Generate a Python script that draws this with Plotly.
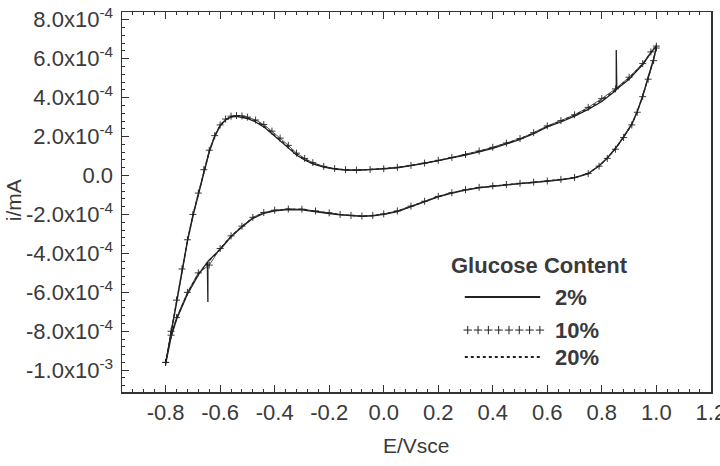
import plotly.graph_objects as go

# ---- data (current in units of 1e-4 mA, potential in V vs SCE) ----
E_up = [-0.80, -0.78, -0.76, -0.74, -0.72, -0.70, -0.68, -0.66, -0.64, -0.62,
        -0.60, -0.58, -0.56, -0.54, -0.52, -0.50, -0.47, -0.44, -0.41, -0.38,
        -0.35, -0.32, -0.29, -0.26, -0.22, -0.18, -0.14, -0.10, -0.05, 0.00,
        0.05, 0.10, 0.15, 0.20, 0.25, 0.30, 0.35, 0.40, 0.45, 0.50,
        0.55, 0.60, 0.65, 0.70, 0.75, 0.80, 0.85, 0.90, 0.95, 0.98, 1.00]
E_down = [1.00, 0.99, 0.97, 0.95, 0.93, 0.91, 0.88, 0.85, 0.82, 0.79,
          0.75, 0.70, 0.65, 0.60, 0.55, 0.50, 0.45, 0.40, 0.35, 0.30,
          0.25, 0.20, 0.15, 0.10, 0.05, 0.00, -0.04, -0.08, -0.12, -0.16,
          -0.20, -0.25, -0.30, -0.35, -0.40, -0.44, -0.48, -0.52, -0.56, -0.60,
          -0.64, -0.68, -0.72, -0.76, -0.78, -0.80]

i2_up = [-9.7, -8.1, -6.5, -4.9, -3.4, -2.1, -1.0, 0.2, 1.2, 2.0,
         2.55, 2.85, 3.0, 3.04, 3.0, 2.93, 2.75, 2.5, 2.15, 1.8,
         1.42, 1.05, 0.8, 0.6, 0.43, 0.33, 0.28, 0.27, 0.3, 0.34,
         0.4, 0.5, 0.62, 0.76, 0.9, 1.05, 1.22, 1.4, 1.62, 1.85,
         2.15, 2.5, 2.75, 3.05, 3.4, 3.8, 4.35, 4.95, 5.7, 6.3, 6.65]
i2_down = [6.6, 6.0, 5.0, 4.1, 3.3, 2.65, 2.0, 1.4, 0.9, 0.5,
           0.1, -0.12, -0.22, -0.3, -0.36, -0.42, -0.48, -0.55, -0.63, -0.75,
           -0.9, -1.1, -1.35, -1.6, -1.85, -2.0, -2.07, -2.1, -2.07, -2.02,
           -1.95, -1.85, -1.76, -1.75, -1.82, -1.95, -2.2, -2.65, -3.15, -3.8,
           -4.35, -5.1, -6.1, -7.4, -8.3, -9.7]
# noise spikes visible on the 2% trace
spike_up_E = [0.853, 0.853, 0.855]
spike_up_i = [4.4, 6.45, 4.45]
spike_down_E = [-0.645, -0.645, -0.647]
spike_down_i = [-4.4, -6.5, -4.45]

i10_up = [-9.6, -8.0, -6.4, -4.8, -3.3, -2.0, -0.9, 0.3, 1.3, 2.05,
          2.6, 2.9, 3.05, 3.08, 3.06, 3.0, 2.85, 2.62, 2.28, 1.92,
          1.55, 1.15, 0.88, 0.66, 0.47, 0.36, 0.3, 0.28, 0.31, 0.35,
          0.42, 0.52, 0.64, 0.78, 0.93, 1.08, 1.26, 1.45, 1.67, 1.9,
          2.2, 2.55, 2.82, 3.12, 3.5, 3.95, 4.45, 5.05, 5.75, 6.35, 6.65]
i10_down = [6.55, 5.9, 4.95, 4.05, 3.25, 2.6, 1.95, 1.35, 0.88, 0.48,
            0.1, -0.1, -0.2, -0.28, -0.34, -0.4, -0.46, -0.53, -0.61, -0.73,
            -0.88, -1.07, -1.32, -1.57, -1.82, -1.97, -2.05, -2.08, -2.05, -2.0,
            -1.92, -1.82, -1.73, -1.72, -1.78, -1.9, -2.15, -2.6, -3.1, -3.75,
            -4.6, -5.0, -6.0, -7.3, -8.2, -9.6]

i20_up = [-9.65, -8.05, -6.45, -4.85, -3.35, -2.05, -0.95, 0.25, 1.25, 2.02,
          2.57, 2.88, 3.02, 3.06, 3.03, 2.96, 2.8, 2.56, 2.2, 1.86,
          1.48, 1.1, 0.84, 0.63, 0.45, 0.35, 0.29, 0.28, 0.31, 0.35,
          0.41, 0.51, 0.63, 0.77, 0.92, 1.07, 1.24, 1.43, 1.65, 1.88,
          2.18, 2.52, 2.8, 3.1, 3.45, 3.88, 4.4, 5.0, 5.72, 6.32, 6.65]
i20_down = [6.58, 5.95, 4.98, 4.08, 3.28, 2.62, 1.98, 1.38, 0.89, 0.49,
            0.1, -0.11, -0.21, -0.29, -0.35, -0.41, -0.47, -0.54, -0.62, -0.74,
            -0.89, -1.08, -1.33, -1.58, -1.83, -1.98, -2.06, -2.09, -2.06, -2.01,
            -1.93, -1.83, -1.74, -1.73, -1.8, -1.92, -2.17, -2.62, -3.12, -3.77,
            -4.38, -5.05, -6.05, -7.35, -8.25, -9.65]

y_tickvals = [-10, -8, -6, -4, -2, 0, 2, 4, 6, 8]
y_ticktext = ["-1.0x10<sup>-3</sup>", "-8.0x10<sup>-4</sup>", "-6.0x10<sup>-4</sup>",
              "-4.0x10<sup>-4</sup>", "-2.0x10<sup>-4</sup>", "0.0",
              "2.0x10<sup>-4</sup>", "4.0x10<sup>-4</sup>", "6.0x10<sup>-4</sup>",
              "8.0x10<sup>-4</sup>"]
x_tickvals = [-0.8, -0.6, -0.4, -0.2, 0.0, 0.2, 0.4, 0.6, 0.8, 1.0, 1.2]
x_ticktext = ["-0.8", "-0.6", "-0.4", "-0.2", "0.0", "0.2", "0.4", "0.6", "0.8", "1.0", "1.2"]

legend_title = "Glucose Content"
legend_labels = ["2%", "10%", "20%"]

# ---- assemble 2% loop with its spikes ----
k_up = E_up.index(0.85) + 1
E2 = E_up[:k_up] + spike_up_E + E_up[k_up:]
I2 = i2_up[:k_up] + spike_up_i + i2_up[k_up:]
k_dn = E_down.index(-0.64) + 1
E2 = E2 + E_down[:k_dn] + spike_down_E + E_down[k_dn:]
I2 = I2 + i2_down[:k_dn] + spike_down_i + i2_down[k_dn:]

INK = "#222222"
FONT = "Liberation Sans, Arial, sans-serif"
TXT = "#3a3a3a"
FS_TICK = 22
FS_TITLE = 21
FS_LEG = 22

fig = go.Figure()
fig.add_trace(go.Scatter(x=E2, y=I2, mode="lines",
                         line=dict(color=INK, width=1.3), showlegend=False))
fig.add_trace(go.Scatter(x=E_up + E_down, y=i10_up + i10_down, mode="lines+markers",
                         line=dict(color=INK, width=0.8),
                         marker=dict(symbol="cross-thin", size=5,
                                     line=dict(color=INK, width=0.9)),
                         showlegend=False))
fig.add_trace(go.Scatter(x=E_up + E_down, y=i20_up + i20_down, mode="lines",
                         line=dict(color=INK, width=1.3, dash="dot"), showlegend=False))

# ---- hand-drawn legend (overlay paper-like axes) ----
leg_x = [0.582, 0.710]
leg_y = [0.25, 0.163, 0.092]
fig.add_trace(go.Scatter(x=leg_x, y=[leg_y[0]] * 2, xaxis="x2", yaxis="y2", mode="lines",
                         line=dict(color=INK, width=2), showlegend=False, hoverinfo="skip"))
fig.add_trace(go.Scatter(x=[0.587 + 0.0175 * k for k in range(8)], y=[leg_y[1]] * 8,
                         xaxis="x2", yaxis="y2", mode="markers",
                         marker=dict(symbol="cross-thin", size=6, line=dict(color=INK, width=1)),
                         showlegend=False, hoverinfo="skip"))
fig.add_trace(go.Scatter(x=leg_x, y=[leg_y[2]] * 2, xaxis="x2", yaxis="y2", mode="lines",
                         line=dict(color=INK, width=2, dash="dot"), showlegend=False,
                         hoverinfo="skip"))

annotations = [
    dict(text="<b>" + legend_title + "</b>", x=0.708, y=0.334, xref="paper", yref="paper",
         xanchor="center", yanchor="middle", showarrow=False,
         font=dict(size=FS_LEG, color=TXT, family=FONT)),
    dict(text="E/Vsce", x=0.5, y=-0.142, xref="paper", yref="paper", showarrow=False,
         xanchor="center", yanchor="middle",
         font=dict(size=FS_TITLE, color=TXT, family=FONT)),
    dict(text="i/mA", x=-0.185, y=0.505, xref="paper", yref="paper", showarrow=False,
         xanchor="center", yanchor="middle",
         textangle=-90, font=dict(size=FS_TITLE, color=TXT, family=FONT)),
]
for lab, yy in zip(legend_labels, leg_y):
    annotations.append(dict(text="<b>" + lab + "</b>", x=0.732, y=yy, xref="paper",
                            yref="paper", xanchor="left", yanchor="middle", showarrow=False,
                            font=dict(size=FS_LEG, color=TXT, family=FONT)))

fig.update_layout(
    width=720, height=466,
    margin=dict(l=122, r=9, t=12, b=74),
    plot_bgcolor="white", paper_bgcolor="white",
    font=dict(family=FONT, size=FS_TICK, color=TXT),
    showlegend=False,
    annotations=annotations,
    xaxis=dict(range=[-0.96, 1.2005], tickmode="array", tickvals=x_tickvals,
               ticktext=x_ticktext, ticks="inside", ticklen=7, tickwidth=1.2,
               tickcolor="#333", showline=True, linecolor="#333", linewidth=1.5,
               mirror="allticks", showgrid=False, zeroline=False, automargin=False,
               ticklabeloverflow="allow",
               minor=dict(ticks="inside", dtick=0.04, tick0=0, ticklen=3,
                          tickcolor="#333", tickwidth=1),
               tickfont=dict(size=FS_TICK, color=TXT)),
    yaxis=dict(range=[-11.12, 8.4], tickmode="array", tickvals=y_tickvals,
               ticktext=y_ticktext, ticks="inside", ticklen=7, tickwidth=1.2,
               tickcolor="#333", showline=True, linecolor="#333", linewidth=1.5,
               mirror=True, showgrid=False, zeroline=False, automargin=False,
               ticklabeloverflow="allow", ticklabelstandoff=3,
               minor=dict(ticks="inside", dtick=0.4, tick0=0, ticklen=3,
                          tickcolor="#333", tickwidth=1),
               tickfont=dict(size=FS_TICK, color=TXT)),
    xaxis2=dict(range=[0, 1], overlaying="x", visible=False, fixedrange=True),
    yaxis2=dict(range=[0, 1], overlaying="y", visible=False, fixedrange=True),
)

# remove the browser's default 8px body margin so the figure fills the window exactly
fig.write_html("out.html",
               config={"displayModeBar": False, "staticPlot": True},
               post_script="document.body.style.margin='0px';document.body.style.overflow='hidden';")
